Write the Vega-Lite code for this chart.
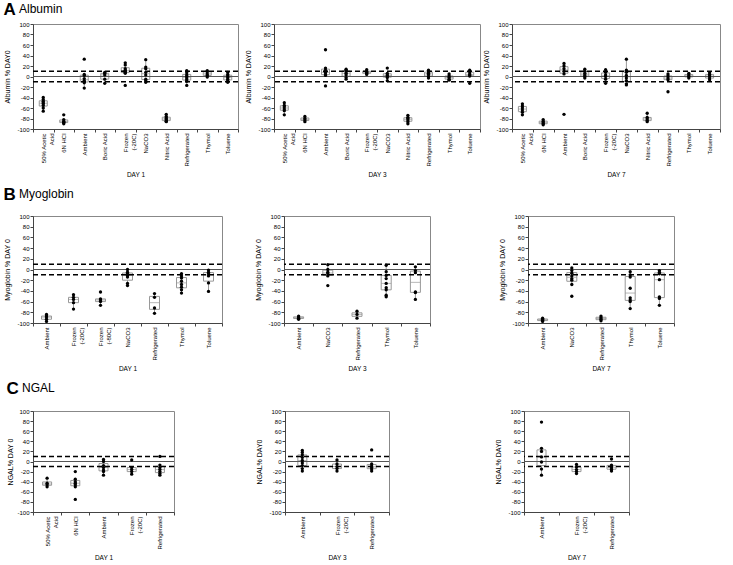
{
  "$schema": "https://vega.github.io/schema/vega-lite/v6.json",
  "padding": {"left": 3, "top": 0, "right": 5, "bottom": 0},
  "background": "white",
  "config": {
    "font": "Liberation Sans",
    "view": {"stroke": "#888"},
    "axis": {"labelFontSize": 6, "titleFontSize": 7, "titleFontWeight": "normal", "tickSize": 3, "labelPadding": 1, "labelOverlap": false, "domainColor": "#444", "tickColor": "#444", "labelColor": "#000", "titleColor": "#000", "grid": false},
    "axisX": {"titleFontSize": 6.5, "titlePadding": 5},
    "axisY": {"titlePadding": 6}
  },
  "datasets": {
    "one": [{}],
    "albumin": [
      {"day":"DAY 1","group":"50% Acetic Acid","value":-40},{"day":"DAY 1","group":"50% Acetic Acid","value":-44},{"day":"DAY 1","group":"50% Acetic Acid","value":-47},{"day":"DAY 1","group":"50% Acetic Acid","value":-50},{"day":"DAY 1","group":"50% Acetic Acid","value":-52},{"day":"DAY 1","group":"50% Acetic Acid","value":-55},{"day":"DAY 1","group":"50% Acetic Acid","value":-60},{"day":"DAY 1","group":"50% Acetic Acid","value":-66},
      {"day":"DAY 1","group":"6N HCl","value":-73},{"day":"DAY 1","group":"6N HCl","value":-82},{"day":"DAY 1","group":"6N HCl","value":-85},{"day":"DAY 1","group":"6N HCl","value":-87},{"day":"DAY 1","group":"6N HCl","value":-88},{"day":"DAY 1","group":"6N HCl","value":-90},
      {"day":"DAY 1","group":"Ambient","value":33},{"day":"DAY 1","group":"Ambient","value":4},{"day":"DAY 1","group":"Ambient","value":2},{"day":"DAY 1","group":"Ambient","value":-4},{"day":"DAY 1","group":"Ambient","value":-8},{"day":"DAY 1","group":"Ambient","value":-10},{"day":"DAY 1","group":"Ambient","value":-12},{"day":"DAY 1","group":"Ambient","value":-22},
      {"day":"DAY 1","group":"Boric Acid","value":8},{"day":"DAY 1","group":"Boric Acid","value":6},{"day":"DAY 1","group":"Boric Acid","value":3},{"day":"DAY 1","group":"Boric Acid","value":-5},{"day":"DAY 1","group":"Boric Acid","value":-13},
      {"day":"DAY 1","group":"Frozen (-20C)","value":26},{"day":"DAY 1","group":"Frozen (-20C)","value":22},{"day":"DAY 1","group":"Frozen (-20C)","value":15},{"day":"DAY 1","group":"Frozen (-20C)","value":12},{"day":"DAY 1","group":"Frozen (-20C)","value":10},{"day":"DAY 1","group":"Frozen (-20C)","value":8},{"day":"DAY 1","group":"Frozen (-20C)","value":6},{"day":"DAY 1","group":"Frozen (-20C)","value":-17},
      {"day":"DAY 1","group":"NaCO3","value":32},{"day":"DAY 1","group":"NaCO3","value":18},{"day":"DAY 1","group":"NaCO3","value":15},{"day":"DAY 1","group":"NaCO3","value":8},{"day":"DAY 1","group":"NaCO3","value":3},{"day":"DAY 1","group":"NaCO3","value":-5},{"day":"DAY 1","group":"NaCO3","value":-8},{"day":"DAY 1","group":"NaCO3","value":-11},
      {"day":"DAY 1","group":"Nitric Acid","value":-72},{"day":"DAY 1","group":"Nitric Acid","value":-76},{"day":"DAY 1","group":"Nitric Acid","value":-79},{"day":"DAY 1","group":"Nitric Acid","value":-81},{"day":"DAY 1","group":"Nitric Acid","value":-83},{"day":"DAY 1","group":"Nitric Acid","value":-85},{"day":"DAY 1","group":"Nitric Acid","value":-86},
      {"day":"DAY 1","group":"Refrigerated","value":11},{"day":"DAY 1","group":"Refrigerated","value":7},{"day":"DAY 1","group":"Refrigerated","value":3},{"day":"DAY 1","group":"Refrigerated","value":0},{"day":"DAY 1","group":"Refrigerated","value":-3},{"day":"DAY 1","group":"Refrigerated","value":-6},{"day":"DAY 1","group":"Refrigerated","value":-9},{"day":"DAY 1","group":"Refrigerated","value":-17},
      {"day":"DAY 1","group":"Thymol","value":11},{"day":"DAY 1","group":"Thymol","value":9},{"day":"DAY 1","group":"Thymol","value":5},{"day":"DAY 1","group":"Thymol","value":2},{"day":"DAY 1","group":"Thymol","value":-1},
      {"day":"DAY 1","group":"Toluene","value":8},{"day":"DAY 1","group":"Toluene","value":4},{"day":"DAY 1","group":"Toluene","value":1},{"day":"DAY 1","group":"Toluene","value":-2},{"day":"DAY 1","group":"Toluene","value":-5},{"day":"DAY 1","group":"Toluene","value":-8},{"day":"DAY 1","group":"Toluene","value":-11},

      {"day":"DAY 3","group":"50% Acetic Acid","value":-50},{"day":"DAY 3","group":"50% Acetic Acid","value":-55},{"day":"DAY 3","group":"50% Acetic Acid","value":-58},{"day":"DAY 3","group":"50% Acetic Acid","value":-62},{"day":"DAY 3","group":"50% Acetic Acid","value":-65},{"day":"DAY 3","group":"50% Acetic Acid","value":-73},
      {"day":"DAY 3","group":"6N HCl","value":-76},{"day":"DAY 3","group":"6N HCl","value":-80},{"day":"DAY 3","group":"6N HCl","value":-83},{"day":"DAY 3","group":"6N HCl","value":-86},
      {"day":"DAY 3","group":"Ambient","value":51},{"day":"DAY 3","group":"Ambient","value":16},{"day":"DAY 3","group":"Ambient","value":12},{"day":"DAY 3","group":"Ambient","value":8},{"day":"DAY 3","group":"Ambient","value":5},{"day":"DAY 3","group":"Ambient","value":2},{"day":"DAY 3","group":"Ambient","value":-18},
      {"day":"DAY 3","group":"Boric Acid","value":14},{"day":"DAY 3","group":"Boric Acid","value":12},{"day":"DAY 3","group":"Boric Acid","value":9},{"day":"DAY 3","group":"Boric Acid","value":6},{"day":"DAY 3","group":"Boric Acid","value":3},{"day":"DAY 3","group":"Boric Acid","value":-2},{"day":"DAY 3","group":"Boric Acid","value":-5},
      {"day":"DAY 3","group":"Frozen (-20C)","value":13},{"day":"DAY 3","group":"Frozen (-20C)","value":10},{"day":"DAY 3","group":"Frozen (-20C)","value":8},{"day":"DAY 3","group":"Frozen (-20C)","value":6},{"day":"DAY 3","group":"Frozen (-20C)","value":4},
      {"day":"DAY 3","group":"NaCO3","value":16},{"day":"DAY 3","group":"NaCO3","value":6},{"day":"DAY 3","group":"NaCO3","value":3},{"day":"DAY 3","group":"NaCO3","value":1},{"day":"DAY 3","group":"NaCO3","value":-2},{"day":"DAY 3","group":"NaCO3","value":-8},
      {"day":"DAY 3","group":"Nitric Acid","value":-74},{"day":"DAY 3","group":"Nitric Acid","value":-78},{"day":"DAY 3","group":"Nitric Acid","value":-80},{"day":"DAY 3","group":"Nitric Acid","value":-83},{"day":"DAY 3","group":"Nitric Acid","value":-86},{"day":"DAY 3","group":"Nitric Acid","value":-90},
      {"day":"DAY 3","group":"Refrigerated","value":12},{"day":"DAY 3","group":"Refrigerated","value":9},{"day":"DAY 3","group":"Refrigerated","value":6},{"day":"DAY 3","group":"Refrigerated","value":4},{"day":"DAY 3","group":"Refrigerated","value":0},{"day":"DAY 3","group":"Refrigerated","value":-3},
      {"day":"DAY 3","group":"Thymol","value":5},{"day":"DAY 3","group":"Thymol","value":1},{"day":"DAY 3","group":"Thymol","value":-2},{"day":"DAY 3","group":"Thymol","value":-5},{"day":"DAY 3","group":"Thymol","value":-7},
      {"day":"DAY 3","group":"Toluene","value":12},{"day":"DAY 3","group":"Toluene","value":9},{"day":"DAY 3","group":"Toluene","value":5},{"day":"DAY 3","group":"Toluene","value":3},{"day":"DAY 3","group":"Toluene","value":1},{"day":"DAY 3","group":"Toluene","value":-13},

      {"day":"DAY 7","group":"50% Acetic Acid","value":-52},{"day":"DAY 7","group":"50% Acetic Acid","value":-56},{"day":"DAY 7","group":"50% Acetic Acid","value":-60},{"day":"DAY 7","group":"50% Acetic Acid","value":-64},{"day":"DAY 7","group":"50% Acetic Acid","value":-68},{"day":"DAY 7","group":"50% Acetic Acid","value":-73},
      {"day":"DAY 7","group":"6N HCl","value":-82},{"day":"DAY 7","group":"6N HCl","value":-85},{"day":"DAY 7","group":"6N HCl","value":-88},{"day":"DAY 7","group":"6N HCl","value":-90},{"day":"DAY 7","group":"6N HCl","value":-92},
      {"day":"DAY 7","group":"Ambient","value":25},{"day":"DAY 7","group":"Ambient","value":20},{"day":"DAY 7","group":"Ambient","value":15},{"day":"DAY 7","group":"Ambient","value":10},{"day":"DAY 7","group":"Ambient","value":5},{"day":"DAY 7","group":"Ambient","value":-72},
      {"day":"DAY 7","group":"Boric Acid","value":14},{"day":"DAY 7","group":"Boric Acid","value":10},{"day":"DAY 7","group":"Boric Acid","value":6},{"day":"DAY 7","group":"Boric Acid","value":3},{"day":"DAY 7","group":"Boric Acid","value":0},{"day":"DAY 7","group":"Boric Acid","value":-3},
      {"day":"DAY 7","group":"Frozen (-20C)","value":13},{"day":"DAY 7","group":"Frozen (-20C)","value":8},{"day":"DAY 7","group":"Frozen (-20C)","value":3},{"day":"DAY 7","group":"Frozen (-20C)","value":0},{"day":"DAY 7","group":"Frozen (-20C)","value":-5},{"day":"DAY 7","group":"Frozen (-20C)","value":-13},
      {"day":"DAY 7","group":"NaCO3","value":33},{"day":"DAY 7","group":"NaCO3","value":12},{"day":"DAY 7","group":"NaCO3","value":8},{"day":"DAY 7","group":"NaCO3","value":2},{"day":"DAY 7","group":"NaCO3","value":-3},{"day":"DAY 7","group":"NaCO3","value":-8},{"day":"DAY 7","group":"NaCO3","value":-14},{"day":"DAY 7","group":"NaCO3","value":-16},
      {"day":"DAY 7","group":"Nitric Acid","value":-70},{"day":"DAY 7","group":"Nitric Acid","value":-78},{"day":"DAY 7","group":"Nitric Acid","value":-81},{"day":"DAY 7","group":"Nitric Acid","value":-84},{"day":"DAY 7","group":"Nitric Acid","value":-86},
      {"day":"DAY 7","group":"Refrigerated","value":5},{"day":"DAY 7","group":"Refrigerated","value":1},{"day":"DAY 7","group":"Refrigerated","value":-3},{"day":"DAY 7","group":"Refrigerated","value":-6},{"day":"DAY 7","group":"Refrigerated","value":-29},
      {"day":"DAY 7","group":"Thymol","value":6},{"day":"DAY 7","group":"Thymol","value":3},{"day":"DAY 7","group":"Thymol","value":0},{"day":"DAY 7","group":"Thymol","value":-3},
      {"day":"DAY 7","group":"Toluene","value":7},{"day":"DAY 7","group":"Toluene","value":4},{"day":"DAY 7","group":"Toluene","value":1},{"day":"DAY 7","group":"Toluene","value":-3},{"day":"DAY 7","group":"Toluene","value":-6}
    ],
    "myoglobin": [
      {"day":"DAY 1","group":"Ambient","value":-84},{"day":"DAY 1","group":"Ambient","value":-87},{"day":"DAY 1","group":"Ambient","value":-89},{"day":"DAY 1","group":"Ambient","value":-93},{"day":"DAY 1","group":"Ambient","value":-97},
      {"day":"DAY 1","group":"Frozen (-20C)","value":-47},{"day":"DAY 1","group":"Frozen (-20C)","value":-52},{"day":"DAY 1","group":"Frozen (-20C)","value":-56},{"day":"DAY 1","group":"Frozen (-20C)","value":-62},{"day":"DAY 1","group":"Frozen (-20C)","value":-74},
      {"day":"DAY 1","group":"Frozen (-80C)","value":-42},{"day":"DAY 1","group":"Frozen (-80C)","value":-55},{"day":"DAY 1","group":"Frozen (-80C)","value":-57},{"day":"DAY 1","group":"Frozen (-80C)","value":-60},{"day":"DAY 1","group":"Frozen (-80C)","value":-67},
      {"day":"DAY 1","group":"NaCO3","value":0},{"day":"DAY 1","group":"NaCO3","value":-5},{"day":"DAY 1","group":"NaCO3","value":-8},{"day":"DAY 1","group":"NaCO3","value":-11},{"day":"DAY 1","group":"NaCO3","value":-14},{"day":"DAY 1","group":"NaCO3","value":-26},{"day":"DAY 1","group":"NaCO3","value":-30},
      {"day":"DAY 1","group":"Refrigerated","value":-45},{"day":"DAY 1","group":"Refrigerated","value":-52},{"day":"DAY 1","group":"Refrigerated","value":-72},{"day":"DAY 1","group":"Refrigerated","value":-82},
      {"day":"DAY 1","group":"Thymol","value":-8},{"day":"DAY 1","group":"Thymol","value":-12},{"day":"DAY 1","group":"Thymol","value":-16},{"day":"DAY 1","group":"Thymol","value":-22},{"day":"DAY 1","group":"Thymol","value":-28},{"day":"DAY 1","group":"Thymol","value":-33},{"day":"DAY 1","group":"Thymol","value":-38},{"day":"DAY 1","group":"Thymol","value":-44},
      {"day":"DAY 1","group":"Toluene","value":-1},{"day":"DAY 1","group":"Toluene","value":-5},{"day":"DAY 1","group":"Toluene","value":-8},{"day":"DAY 1","group":"Toluene","value":-12},{"day":"DAY 1","group":"Toluene","value":-25},{"day":"DAY 1","group":"Toluene","value":-41},

      {"day":"DAY 3","group":"Ambient","value":-87},{"day":"DAY 3","group":"Ambient","value":-89},{"day":"DAY 3","group":"Ambient","value":-91},{"day":"DAY 3","group":"Ambient","value":-93},
      {"day":"DAY 3","group":"NaCO3","value":9},{"day":"DAY 3","group":"NaCO3","value":0},{"day":"DAY 3","group":"NaCO3","value":-5},{"day":"DAY 3","group":"NaCO3","value":-8},{"day":"DAY 3","group":"NaCO3","value":-12},{"day":"DAY 3","group":"NaCO3","value":-30},
      {"day":"DAY 3","group":"Refrigerated","value":-78},{"day":"DAY 3","group":"Refrigerated","value":-84},{"day":"DAY 3","group":"Refrigerated","value":-91},
      {"day":"DAY 3","group":"Thymol","value":8},{"day":"DAY 3","group":"Thymol","value":-4},{"day":"DAY 3","group":"Thymol","value":-11},{"day":"DAY 3","group":"Thymol","value":-17},{"day":"DAY 3","group":"Thymol","value":-26},{"day":"DAY 3","group":"Thymol","value":-34},{"day":"DAY 3","group":"Thymol","value":-38},{"day":"DAY 3","group":"Thymol","value":-48},{"day":"DAY 3","group":"Thymol","value":-51},
      {"day":"DAY 3","group":"Toluene","value":5},{"day":"DAY 3","group":"Toluene","value":-2},{"day":"DAY 3","group":"Toluene","value":-6},{"day":"DAY 3","group":"Toluene","value":-42},{"day":"DAY 3","group":"Toluene","value":-43},{"day":"DAY 3","group":"Toluene","value":-56},

      {"day":"DAY 7","group":"Ambient","value":-91},{"day":"DAY 7","group":"Ambient","value":-93},{"day":"DAY 7","group":"Ambient","value":-95},{"day":"DAY 7","group":"Ambient","value":-97},
      {"day":"DAY 7","group":"NaCO3","value":3},{"day":"DAY 7","group":"NaCO3","value":-2},{"day":"DAY 7","group":"NaCO3","value":-7},{"day":"DAY 7","group":"NaCO3","value":-12},{"day":"DAY 7","group":"NaCO3","value":-17},{"day":"DAY 7","group":"NaCO3","value":-20},{"day":"DAY 7","group":"NaCO3","value":-28},{"day":"DAY 7","group":"NaCO3","value":-50},
      {"day":"DAY 7","group":"Refrigerated","value":-87},{"day":"DAY 7","group":"Refrigerated","value":-90},{"day":"DAY 7","group":"Refrigerated","value":-93},{"day":"DAY 7","group":"Refrigerated","value":-96},
      {"day":"DAY 7","group":"Thymol","value":-4},{"day":"DAY 7","group":"Thymol","value":-10},{"day":"DAY 7","group":"Thymol","value":-14},{"day":"DAY 7","group":"Thymol","value":-35},{"day":"DAY 7","group":"Thymol","value":-53},{"day":"DAY 7","group":"Thymol","value":-57},{"day":"DAY 7","group":"Thymol","value":-60},{"day":"DAY 7","group":"Thymol","value":-73},
      {"day":"DAY 7","group":"Toluene","value":-2},{"day":"DAY 7","group":"Toluene","value":-5},{"day":"DAY 7","group":"Toluene","value":-8},{"day":"DAY 7","group":"Toluene","value":-19},{"day":"DAY 7","group":"Toluene","value":-51},{"day":"DAY 7","group":"Toluene","value":-54},{"day":"DAY 7","group":"Toluene","value":-67}
    ],
    "ngal": [
      {"day":"DAY 1","group":"50% Acetic Acid","value":-33},{"day":"DAY 1","group":"50% Acetic Acid","value":-43},{"day":"DAY 1","group":"50% Acetic Acid","value":-46},{"day":"DAY 1","group":"50% Acetic Acid","value":-50},
      {"day":"DAY 1","group":"6N HCl","value":-20},{"day":"DAY 1","group":"6N HCl","value":-35},{"day":"DAY 1","group":"6N HCl","value":-40},{"day":"DAY 1","group":"6N HCl","value":-43},{"day":"DAY 1","group":"6N HCl","value":-46},{"day":"DAY 1","group":"6N HCl","value":-50},{"day":"DAY 1","group":"6N HCl","value":-75},
      {"day":"DAY 1","group":"Ambient","value":4},{"day":"DAY 1","group":"Ambient","value":0},{"day":"DAY 1","group":"Ambient","value":-8},{"day":"DAY 1","group":"Ambient","value":-12},{"day":"DAY 1","group":"Ambient","value":-17},{"day":"DAY 1","group":"Ambient","value":-20},{"day":"DAY 1","group":"Ambient","value":-27},
      {"day":"DAY 1","group":"Frozen (-20C)","value":3},{"day":"DAY 1","group":"Frozen (-20C)","value":-12},{"day":"DAY 1","group":"Frozen (-20C)","value":-16},{"day":"DAY 1","group":"Frozen (-20C)","value":-20},{"day":"DAY 1","group":"Frozen (-20C)","value":-25},
      {"day":"DAY 1","group":"Refrigerated","value":10},{"day":"DAY 1","group":"Refrigerated","value":-7},{"day":"DAY 1","group":"Refrigerated","value":-12},{"day":"DAY 1","group":"Refrigerated","value":-16},{"day":"DAY 1","group":"Refrigerated","value":-20},{"day":"DAY 1","group":"Refrigerated","value":-24},{"day":"DAY 1","group":"Refrigerated","value":-27},

      {"day":"DAY 3","group":"Ambient","value":22},{"day":"DAY 3","group":"Ambient","value":18},{"day":"DAY 3","group":"Ambient","value":13},{"day":"DAY 3","group":"Ambient","value":8},{"day":"DAY 3","group":"Ambient","value":2},{"day":"DAY 3","group":"Ambient","value":-3},{"day":"DAY 3","group":"Ambient","value":-8},{"day":"DAY 3","group":"Ambient","value":-14},{"day":"DAY 3","group":"Ambient","value":-19},
      {"day":"DAY 3","group":"Frozen (-20C)","value":3},{"day":"DAY 3","group":"Frozen (-20C)","value":-5},{"day":"DAY 3","group":"Frozen (-20C)","value":-10},{"day":"DAY 3","group":"Frozen (-20C)","value":-14},{"day":"DAY 3","group":"Frozen (-20C)","value":-19},
      {"day":"DAY 3","group":"Refrigerated","value":23},{"day":"DAY 3","group":"Refrigerated","value":-5},{"day":"DAY 3","group":"Refrigerated","value":-9},{"day":"DAY 3","group":"Refrigerated","value":-12},{"day":"DAY 3","group":"Refrigerated","value":-15},{"day":"DAY 3","group":"Refrigerated","value":-19},

      {"day":"DAY 7","group":"Ambient","value":78},{"day":"DAY 7","group":"Ambient","value":26},{"day":"DAY 7","group":"Ambient","value":20},{"day":"DAY 7","group":"Ambient","value":9},{"day":"DAY 7","group":"Ambient","value":-1},{"day":"DAY 7","group":"Ambient","value":-15},{"day":"DAY 7","group":"Ambient","value":-27},
      {"day":"DAY 7","group":"Frozen (-20C)","value":-6},{"day":"DAY 7","group":"Frozen (-20C)","value":-11},{"day":"DAY 7","group":"Frozen (-20C)","value":-16},{"day":"DAY 7","group":"Frozen (-20C)","value":-20},{"day":"DAY 7","group":"Frozen (-20C)","value":-24},
      {"day":"DAY 7","group":"Refrigerated","value":5},{"day":"DAY 7","group":"Refrigerated","value":-7},{"day":"DAY 7","group":"Refrigerated","value":-10},{"day":"DAY 7","group":"Refrigerated","value":-13},{"day":"DAY 7","group":"Refrigerated","value":-16},{"day":"DAY 7","group":"Refrigerated","value":-19}
    ]
  },
  "spacing": 6,
  "vconcat": [
    {
      "title": {"text": "A", "anchor": "start", "frame": "bounds", "fontSize": 17, "fontWeight": "bold", "dy": 16, "offset": 0},
      "spacing": 4,
      "hconcat": [
        {
          "width": 205, "height": 105,
          "title": {"text": "Albumin", "anchor": "start", "frame": "bounds", "fontSize": 12, "fontWeight": "normal", "dx": 15, "offset": 5},
          "layer": [
            {"data": {"name": "albumin"}, "transform": [{"filter": "datum.day === 'DAY 1'"}],
             "mark": {"type": "boxplot", "size": 8, "outliers": false, "box": {"fill": "transparent", "stroke": "#999", "strokeWidth": 1}, "median": {"color": "#999"}, "rule": {"color": "#999"}},
             "encoding": {
               "x": {"field": "group", "type": "nominal", "title": "DAY 1", "scale": {"paddingInner": 0, "paddingOuter": 0}, "axis": {"labelAngle": -90, "labelOverlap": false, "tickBand": "extent", "labelExpr": "datum.label == '50% Acetic Acid' ? ['50% Acetic', 'Acid'] : datum.label == 'Frozen (-20C)' ? ['Frozen', '(-20C)'] : datum.label == 'Frozen (-80C)' ? ['Frozen', '(-80C)'] : datum.label"}},
               "y": {"field": "value", "type": "quantitative", "title": "Albumin % DAY0", "scale": {"domain": [-100, 100]}, "axis": {"values": [-100,-80,-60,-40,-20,0,20,40,60,80,100], "tickCount": 11, "labelOverlap": false, "labelExpr": "toString(datum.value)"}}
             }},
            {"data": {"name": "one"}, "mark": {"type": "rule", "strokeDash": [5, 3], "strokeWidth": 1.5, "color": "#000"}, "encoding": {"y": {"datum": 10}}},
            {"data": {"name": "one"}, "mark": {"type": "rule", "strokeDash": [5, 3], "strokeWidth": 1.5, "color": "#000"}, "encoding": {"y": {"datum": -10}}},
            {"data": {"name": "one"}, "mark": {"type": "rule", "strokeWidth": 1, "color": "#555"}, "encoding": {"y": {"datum": 0}}},
            {"data": {"name": "albumin"}, "transform": [{"filter": "datum.day === 'DAY 1'"}],
             "mark": {"type": "circle", "size": 11, "color": "#000", "opacity": 1},
             "encoding": {"x": {"field": "group", "type": "nominal"}, "y": {"field": "value", "type": "quantitative"}}}
          ]
        },
        {
          "spacing": 0,
          "hconcat": [
            {
              "width": 206, "height": 105,
              "layer": [
                {"data": {"name": "albumin"}, "transform": [{"filter": "datum.day === 'DAY 3'"}],
                 "mark": {"type": "boxplot", "size": 8, "outliers": false, "box": {"fill": "transparent", "stroke": "#999", "strokeWidth": 1}, "median": {"color": "#999"}, "rule": {"color": "#999"}},
                 "encoding": {
                   "x": {"field": "group", "type": "nominal", "title": "DAY 3", "scale": {"paddingInner": 0, "paddingOuter": 0}, "axis": {"labelAngle": -90, "labelOverlap": false, "tickBand": "extent", "labelExpr": "datum.label == '50% Acetic Acid' ? ['50% Acetic', 'Acid'] : datum.label == 'Frozen (-20C)' ? ['Frozen', '(-20C)'] : datum.label == 'Frozen (-80C)' ? ['Frozen', '(-80C)'] : datum.label"}},
                   "y": {"field": "value", "type": "quantitative", "title": "Albumin % DAY0", "scale": {"domain": [-100, 100]}, "axis": {"values": [-100,-80,-60,-40,-20,0,20,40,60,80,100], "tickCount": 11, "labelOverlap": false, "labelExpr": "toString(datum.value)"}}
                 }},
                {"data": {"name": "one"}, "mark": {"type": "rule", "strokeDash": [5, 3], "strokeWidth": 1.5, "color": "#000"}, "encoding": {"y": {"datum": 10}}},
                {"data": {"name": "one"}, "mark": {"type": "rule", "strokeDash": [5, 3], "strokeWidth": 1.5, "color": "#000"}, "encoding": {"y": {"datum": -10}}},
                {"data": {"name": "one"}, "mark": {"type": "rule", "strokeWidth": 1, "color": "#555"}, "encoding": {"y": {"datum": 0}}},
                {"data": {"name": "albumin"}, "transform": [{"filter": "datum.day === 'DAY 3'"}],
                 "mark": {"type": "circle", "size": 11, "color": "#000", "opacity": 1},
                 "encoding": {"x": {"field": "group", "type": "nominal"}, "y": {"field": "value", "type": "quantitative"}}}
              ]
            },
            {
              "width": 208, "height": 105,
              "layer": [
                {"data": {"name": "albumin"}, "transform": [{"filter": "datum.day === 'DAY 7'"}],
                 "mark": {"type": "boxplot", "size": 8, "outliers": false, "box": {"fill": "transparent", "stroke": "#999", "strokeWidth": 1}, "median": {"color": "#999"}, "rule": {"color": "#999"}},
                 "encoding": {
                   "x": {"field": "group", "type": "nominal", "title": "DAY 7", "scale": {"paddingInner": 0, "paddingOuter": 0}, "axis": {"labelAngle": -90, "labelOverlap": false, "tickBand": "extent", "labelExpr": "datum.label == '50% Acetic Acid' ? ['50% Acetic', 'Acid'] : datum.label == 'Frozen (-20C)' ? ['Frozen', '(-20C)'] : datum.label == 'Frozen (-80C)' ? ['Frozen', '(-80C)'] : datum.label"}},
                   "y": {"field": "value", "type": "quantitative", "title": "Albumin % DAY0", "scale": {"domain": [-100, 100]}, "axis": {"values": [-100,-80,-60,-40,-20,0,20,40,60,80,100], "tickCount": 11, "labelOverlap": false, "labelExpr": "toString(datum.value)"}}
                 }},
                {"data": {"name": "one"}, "mark": {"type": "rule", "strokeDash": [5, 3], "strokeWidth": 1.5, "color": "#000"}, "encoding": {"y": {"datum": 10}}},
                {"data": {"name": "one"}, "mark": {"type": "rule", "strokeDash": [5, 3], "strokeWidth": 1.5, "color": "#000"}, "encoding": {"y": {"datum": -10}}},
                {"data": {"name": "one"}, "mark": {"type": "rule", "strokeWidth": 1, "color": "#555"}, "encoding": {"y": {"datum": 0}}},
                {"data": {"name": "albumin"}, "transform": [{"filter": "datum.day === 'DAY 7'"}],
                 "mark": {"type": "circle", "size": 11, "color": "#000", "opacity": 1},
                 "encoding": {"x": {"field": "group", "type": "nominal"}, "y": {"field": "value", "type": "quantitative"}}}
              ]
            }
          ]
        }
      ]
    },
    {
      "title": {"text": "B", "anchor": "start", "frame": "bounds", "fontSize": 17, "fontWeight": "bold", "dy": 16, "offset": 0},
      "spacing": 30,
      "hconcat": [
        {
          "width": 189, "height": 107,
          "title": {"text": "Myoglobin", "anchor": "start", "frame": "bounds", "fontSize": 12, "fontWeight": "normal", "dx": 15, "offset": 12},
          "layer": [
            {"data": {"name": "myoglobin"}, "transform": [{"filter": "datum.day === 'DAY 1'"}],
             "mark": {"type": "boxplot", "size": 10, "outliers": false, "box": {"fill": "transparent", "stroke": "#999", "strokeWidth": 1}, "median": {"color": "#999"}, "rule": {"color": "#999"}},
             "encoding": {
               "x": {"field": "group", "type": "nominal", "title": "DAY 1", "scale": {"paddingInner": 0, "paddingOuter": 0}, "axis": {"labelAngle": -90, "labelOverlap": false, "tickBand": "extent", "labelExpr": "datum.label == '50% Acetic Acid' ? ['50% Acetic', 'Acid'] : datum.label == 'Frozen (-20C)' ? ['Frozen', '(-20C)'] : datum.label == 'Frozen (-80C)' ? ['Frozen', '(-80C)'] : datum.label"}},
               "y": {"field": "value", "type": "quantitative", "title": "Myoglobin % DAY 0", "scale": {"domain": [-100, 100]}, "axis": {"values": [-100,-80,-60,-40,-20,0,20,40,60,80,100], "tickCount": 11, "labelOverlap": false, "labelExpr": "toString(datum.value)"}}
             }},
            {"data": {"name": "one"}, "mark": {"type": "rule", "strokeDash": [5, 3], "strokeWidth": 1.5, "color": "#000"}, "encoding": {"y": {"datum": 10}}},
            {"data": {"name": "one"}, "mark": {"type": "rule", "strokeDash": [5, 3], "strokeWidth": 1.5, "color": "#000"}, "encoding": {"y": {"datum": -10}}},
            {"data": {"name": "one"}, "mark": {"type": "rule", "strokeWidth": 1, "color": "#555"}, "encoding": {"y": {"datum": 0}}},
            {"data": {"name": "myoglobin"}, "transform": [{"filter": "datum.day === 'DAY 1'"}],
             "mark": {"type": "circle", "size": 11, "color": "#000", "opacity": 1},
             "encoding": {"x": {"field": "group", "type": "nominal"}, "y": {"field": "value", "type": "quantitative"}}}
          ]
        },
        {
          "spacing": 66,
          "hconcat": [
            {
              "width": 146, "height": 107,
              "layer": [
                {"data": {"name": "myoglobin"}, "transform": [{"filter": "datum.day === 'DAY 3'"}],
                 "mark": {"type": "boxplot", "size": 10, "outliers": false, "box": {"fill": "transparent", "stroke": "#999", "strokeWidth": 1}, "median": {"color": "#999"}, "rule": {"color": "#999"}},
                 "encoding": {
                   "x": {"field": "group", "type": "nominal", "title": "DAY 3", "scale": {"paddingInner": 0, "paddingOuter": 0}, "axis": {"labelAngle": -90, "labelOverlap": false, "tickBand": "extent"}},
                   "y": {"field": "value", "type": "quantitative", "title": "Myoglobin % DAY 0", "scale": {"domain": [-100, 100]}, "axis": {"values": [-100,-80,-60,-40,-20,0,20,40,60,80,100], "tickCount": 11, "labelOverlap": false, "labelExpr": "toString(datum.value)"}}
                 }},
                {"data": {"name": "one"}, "mark": {"type": "rule", "strokeDash": [5, 3], "strokeWidth": 1.5, "color": "#000"}, "encoding": {"y": {"datum": 10}}},
                {"data": {"name": "one"}, "mark": {"type": "rule", "strokeDash": [5, 3], "strokeWidth": 1.5, "color": "#000"}, "encoding": {"y": {"datum": -10}}},
                {"data": {"name": "one"}, "mark": {"type": "rule", "strokeWidth": 1, "color": "#555"}, "encoding": {"y": {"datum": 0}}},
                {"data": {"name": "myoglobin"}, "transform": [{"filter": "datum.day === 'DAY 3'"}],
                 "mark": {"type": "circle", "size": 11, "color": "#000", "opacity": 1},
                 "encoding": {"x": {"field": "group", "type": "nominal"}, "y": {"field": "value", "type": "quantitative"}}}
              ]
            },
            {
              "width": 146, "height": 107,
              "layer": [
                {"data": {"name": "myoglobin"}, "transform": [{"filter": "datum.day === 'DAY 7'"}],
                 "mark": {"type": "boxplot", "size": 10, "outliers": false, "box": {"fill": "transparent", "stroke": "#999", "strokeWidth": 1}, "median": {"color": "#999"}, "rule": {"color": "#999"}},
                 "encoding": {
                   "x": {"field": "group", "type": "nominal", "title": "DAY 7", "scale": {"paddingInner": 0, "paddingOuter": 0}, "axis": {"labelAngle": -90, "labelOverlap": false, "tickBand": "extent"}},
                   "y": {"field": "value", "type": "quantitative", "title": "Myoglobin % DAY 0", "scale": {"domain": [-100, 100]}, "axis": {"values": [-100,-80,-60,-40,-20,0,20,40,60,80,100], "tickCount": 11, "labelOverlap": false, "labelExpr": "toString(datum.value)"}}
                 }},
                {"data": {"name": "one"}, "mark": {"type": "rule", "strokeDash": [5, 3], "strokeWidth": 1.5, "color": "#000"}, "encoding": {"y": {"datum": 10}}},
                {"data": {"name": "one"}, "mark": {"type": "rule", "strokeDash": [5, 3], "strokeWidth": 1.5, "color": "#000"}, "encoding": {"y": {"datum": -10}}},
                {"data": {"name": "one"}, "mark": {"type": "rule", "strokeWidth": 1, "color": "#555"}, "encoding": {"y": {"datum": 0}}},
                {"data": {"name": "myoglobin"}, "transform": [{"filter": "datum.day === 'DAY 7'"}],
                 "mark": {"type": "circle", "size": 11, "color": "#000", "opacity": 1},
                 "encoding": {"x": {"field": "group", "type": "nominal"}, "y": {"field": "value", "type": "quantitative"}}}
              ]
            }
          ]
        }
      ]
    },
    {
      "title": {"text": "C", "anchor": "start", "frame": "bounds", "fontSize": 17, "fontWeight": "bold", "dy": 16, "offset": 0},
      "spacing": 79,
      "hconcat": [
        {
          "width": 141, "height": 101,
          "title": {"text": "NGAL", "anchor": "start", "frame": "bounds", "fontSize": 12, "fontWeight": "normal", "dx": 15, "offset": 13},
          "layer": [
            {"data": {"name": "ngal"}, "transform": [{"filter": "datum.day === 'DAY 1'"}],
             "mark": {"type": "boxplot", "size": 9, "outliers": false, "box": {"fill": "transparent", "stroke": "#999", "strokeWidth": 1}, "median": {"color": "#999"}, "rule": {"color": "#999"}},
             "encoding": {
               "x": {"field": "group", "type": "nominal", "title": "DAY 1", "scale": {"paddingInner": 0, "paddingOuter": 0}, "axis": {"labelAngle": -90, "labelOverlap": false, "tickBand": "extent", "labelExpr": "datum.label == '50% Acetic Acid' ? ['50% Acetic', 'Acid'] : datum.label == 'Frozen (-20C)' ? ['Frozen', '(-20C)'] : datum.label == 'Frozen (-80C)' ? ['Frozen', '(-80C)'] : datum.label"}},
               "y": {"field": "value", "type": "quantitative", "title": "NGAL% DAY 0", "scale": {"domain": [-100, 100]}, "axis": {"values": [-100,-80,-60,-40,-20,0,20,40,60,80,100], "tickCount": 11, "labelOverlap": false, "titlePadding": 3, "labelExpr": "toString(datum.value)"}}
             }},
            {"data": {"name": "one"}, "mark": {"type": "rule", "strokeDash": [5, 3], "strokeWidth": 1.5, "color": "#000"}, "encoding": {"y": {"datum": 10}}},
            {"data": {"name": "one"}, "mark": {"type": "rule", "strokeDash": [5, 3], "strokeWidth": 1.5, "color": "#000"}, "encoding": {"y": {"datum": -10}}},
            {"data": {"name": "one"}, "mark": {"type": "rule", "strokeWidth": 1, "color": "#555"}, "encoding": {"y": {"datum": 0}}},
            {"data": {"name": "ngal"}, "transform": [{"filter": "datum.day === 'DAY 1'"}],
             "mark": {"type": "circle", "size": 11, "color": "#000", "opacity": 1},
             "encoding": {"x": {"field": "group", "type": "nominal"}, "y": {"field": "value", "type": "quantitative"}}}
          ]
        },
        {
          "spacing": 103,
          "hconcat": [
            {
              "width": 104, "height": 101,
              "layer": [
                {"data": {"name": "ngal"}, "transform": [{"filter": "datum.day === 'DAY 3'"}],
                 "mark": {"type": "boxplot", "size": 9, "outliers": false, "box": {"fill": "transparent", "stroke": "#999", "strokeWidth": 1}, "median": {"color": "#999"}, "rule": {"color": "#999"}},
                 "encoding": {
                   "x": {"field": "group", "type": "nominal", "title": "DAY 3", "scale": {"paddingInner": 0, "paddingOuter": 0}, "axis": {"labelAngle": -90, "labelOverlap": false, "tickBand": "extent", "labelExpr": "datum.label == 'Frozen (-20C)' ? ['Frozen', '(-20C)'] : datum.label"}},
                   "y": {"field": "value", "type": "quantitative", "title": "NGAL% DAY0", "scale": {"domain": [-100, 100]}, "axis": {"values": [-100,-80,-60,-40,-20,0,20,40,60,80,100], "tickCount": 11, "labelOverlap": false, "labelExpr": "toString(datum.value)"}}
                 }},
                {"data": {"name": "one"}, "mark": {"type": "rule", "strokeDash": [5, 3], "strokeWidth": 1.5, "color": "#000"}, "encoding": {"y": {"datum": 10}}},
                {"data": {"name": "one"}, "mark": {"type": "rule", "strokeDash": [5, 3], "strokeWidth": 1.5, "color": "#000"}, "encoding": {"y": {"datum": -10}}},
                {"data": {"name": "one"}, "mark": {"type": "rule", "strokeWidth": 1, "color": "#555"}, "encoding": {"y": {"datum": 0}}},
                {"data": {"name": "ngal"}, "transform": [{"filter": "datum.day === 'DAY 3'"}],
                 "mark": {"type": "circle", "size": 11, "color": "#000", "opacity": 1},
                 "encoding": {"x": {"field": "group", "type": "nominal"}, "y": {"field": "value", "type": "quantitative"}}}
              ]
            },
            {
              "width": 105, "height": 101,
              "layer": [
                {"data": {"name": "ngal"}, "transform": [{"filter": "datum.day === 'DAY 7'"}],
                 "mark": {"type": "boxplot", "size": 9, "outliers": false, "box": {"fill": "transparent", "stroke": "#999", "strokeWidth": 1}, "median": {"color": "#999"}, "rule": {"color": "#999"}},
                 "encoding": {
                   "x": {"field": "group", "type": "nominal", "title": "DAY 7", "scale": {"paddingInner": 0, "paddingOuter": 0}, "axis": {"labelAngle": -90, "labelOverlap": false, "tickBand": "extent", "labelExpr": "datum.label == 'Frozen (-20C)' ? ['Frozen', '(-20C)'] : datum.label"}},
                   "y": {"field": "value", "type": "quantitative", "title": "NGAL% DAY0", "scale": {"domain": [-100, 100]}, "axis": {"values": [-100,-80,-60,-40,-20,0,20,40,60,80,100], "tickCount": 11, "labelOverlap": false, "labelExpr": "toString(datum.value)"}}
                 }},
                {"data": {"name": "one"}, "mark": {"type": "rule", "strokeDash": [5, 3], "strokeWidth": 1.5, "color": "#000"}, "encoding": {"y": {"datum": 10}}},
                {"data": {"name": "one"}, "mark": {"type": "rule", "strokeDash": [5, 3], "strokeWidth": 1.5, "color": "#000"}, "encoding": {"y": {"datum": -10}}},
                {"data": {"name": "one"}, "mark": {"type": "rule", "strokeWidth": 1, "color": "#555"}, "encoding": {"y": {"datum": 0}}},
                {"data": {"name": "ngal"}, "transform": [{"filter": "datum.day === 'DAY 7'"}],
                 "mark": {"type": "circle", "size": 11, "color": "#000", "opacity": 1},
                 "encoding": {"x": {"field": "group", "type": "nominal"}, "y": {"field": "value", "type": "quantitative"}}}
              ]
            }
          ]
        }
      ]
    }
  ]
}
